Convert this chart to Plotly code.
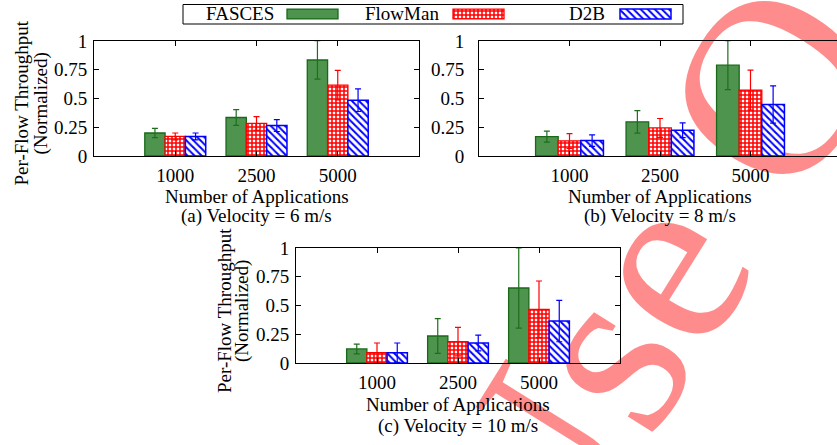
import plotly.graph_objects as go

W, H = 837, 445

categories = ["1000", "2500", "5000"]
series = ["FASCES", "FlowMan", "D2B"]
yticks = [0, 0.25, 0.5, 0.75, 1]
yticktext = ["0", "0.25", "0.5", "0.75", "1"]

# (a) Velocity = 6 m/s
a_fasces = [0.200, 0.335, 0.835]
a_fasces_err = [0.040, 0.068, 0.167]
a_flowman = [0.170, 0.283, 0.616]
a_flowman_err = [0.030, 0.060, 0.128]
a_d2b = [0.170, 0.265, 0.485]
a_d2b_err = [0.030, 0.052, 0.098]

# (b) Velocity = 8 m/s
b_fasces = [0.169, 0.297, 0.790]
b_fasces_err = [0.048, 0.098, 0.212]
b_flowman = [0.131, 0.244, 0.573]
b_flowman_err = [0.064, 0.082, 0.174]
b_d2b = [0.134, 0.224, 0.448]
b_d2b_err = [0.050, 0.064, 0.162]

# (c) Velocity = 10 m/s
c_fasces = [0.122, 0.235, 0.652]
c_fasces_err = [0.042, 0.151, 0.348]
c_flowman = [0.090, 0.186, 0.467]
c_flowman_err = [0.084, 0.124, 0.246]
c_d2b = [0.090, 0.174, 0.365]
c_d2b_err = [0.084, 0.069, 0.180]

captions = ["(a) Velocity = 6 m/s", "(b) Velocity = 8 m/s", "(c) Velocity = 10 m/s"]
xtitle = "Number of Applications"
ytitle1 = "Per-Flow Throughput"
ytitle2 = "(Normalized)"
watermark = "Use Only"

FONT = "Liberation Serif, Times New Roman, serif"
FS = 19


def px(x):
    return x / W


def py(y):
    return 1 - y / H


styles = [
    dict(color="rgb(78,148,78)", line=dict(color="rgb(25,105,25)", width=1.3)),
    dict(color="white", line=dict(color="red", width=1.3),
         pattern=dict(shape="+", fgcolor="red", bgcolor="white", size=4, solidity=0.62, fillmode="replace")),
    dict(color="white", line=dict(color="blue", width=1.5),
         pattern=dict(shape="\\", fgcolor="blue", bgcolor="white", size=5, solidity=0.4, fillmode="replace")),
]
err_colors = ["rgb(30,110,30)", "red", "blue"]

fig = go.Figure()

panels = [
    ("x", "y", [a_fasces, a_flowman, a_d2b], [a_fasces_err, a_flowman_err, a_d2b_err]),
    ("x2", "y2", [b_fasces, b_flowman, b_d2b], [b_fasces_err, b_flowman_err, b_d2b_err]),
    ("x3", "y3", [c_fasces, c_flowman, c_d2b], [c_fasces_err, c_flowman_err, c_d2b_err]),
]
xpos = list(range(len(categories)))
for xa, ya, vals, errs in panels:
    for i, name in enumerate(series):
        fig.add_trace(go.Bar(
            x=xpos, y=vals[i], name=name, xaxis=xa, yaxis=ya, showlegend=False,
            marker=styles[i],
            error_y=dict(type="data", array=errs[i], color=err_colors[i], thickness=1.2, width=3),
        ))

# legend swatches (custom gnuplot-style legend: text then swatch)
leg_starts = [287, 453, 620]
leg_text_right = [276, 441, 607]
for i, name in enumerate(series):
    fig.add_trace(go.Bar(
        y=[0.5], x=[51], base=[leg_starts[i]], orientation="h", width=0.55, offset=-0.275,
        xaxis="x4", yaxis="y4", showlegend=False, marker=styles[i], hoverinfo="skip",
    ))

axis_common = dict(showline=True, linecolor="black", linewidth=1, ticks="inside", ticklen=5,
                   tickcolor="black", showgrid=False, zeroline=False, automargin=False,
                   tickfont=dict(family=FONT, size=FS, color="black"))

# panel geometry (pixels): left, right, top, bottom, x-range end
geo = {
    "": (94, 419, 41, 156, 3.0, True),
    "2": (479, 837, 41, 156, -1 + (837 - 479) / 90.5, False),
    "3": (296, 620, 248, 363, 3.0, True),
}
layout = dict(
    template="none",
    width=W, height=H, margin=dict(l=0, r=0, t=0, b=0, autoexpand=False),
    paper_bgcolor="white", plot_bgcolor="rgba(0,0,0,0)",
    barmode="group", bargap=0.25, bargroupgap=0.0,
    font=dict(family=FONT, size=FS, color="black"),
)
standoff = {"": 2, "2": 10, "3": 2}
for k, (l, r, t, b, xend, ymir) in geo.items():
    layout["xaxis" + k] = dict(axis_common, domain=[px(l), px(r)], range=[-1, xend],
                               tickvals=xpos, ticktext=categories, mirror="ticks",
                               anchor="y" + k, ticklabelstandoff=2)
    layout["yaxis" + k] = dict(axis_common, domain=[py(b), py(t)], range=[0, 1],
                               tickvals=yticks, ticktext=yticktext,
                               mirror="ticks" if ymir else False,
                               anchor="x" + k, ticklabelstandoff=standoff[k])
layout["xaxis4"] = dict(domain=[0, 1], range=[0, W], visible=False, anchor="y4", fixedrange=True,
                        automargin=False)
layout["yaxis4"] = dict(domain=[py(23), py(5)], range=[0, 1], visible=False, anchor="x4", fixedrange=True,
                        automargin=False)
fig.update_layout(**layout)

ann = []
# legend texts
for i, name in enumerate(series):
    ann.append(dict(x=px(leg_text_right[i]), y=py(14), xref="paper", yref="paper", text=name,
                    showarrow=False, xanchor="right", yanchor="middle"))
# x titles and captions
centers = [(256.5, 197, 216), (660, 197, 216), (458, 404, 426)]
for (cx, ty, cy), cap in zip(centers, captions):
    ann.append(dict(x=px(cx), y=py(ty), xref="paper", yref="paper", text=xtitle,
                    showarrow=False, xanchor="center", yanchor="middle"))
    ann.append(dict(x=px(cx), y=py(cy), xref="paper", yref="paper", text=cap,
                    showarrow=False, xanchor="center", yanchor="middle"))
# y titles
for (x1, x2, yc) in [(21, 40, 103.5), (224, 242, 311)]:
    ann.append(dict(x=px(x1), y=py(yc), xref="paper", yref="paper", text=ytitle1, textangle=-90,
                    showarrow=False, xanchor="center", yanchor="middle"))
    ann.append(dict(x=px(x2), y=py(yc), xref="paper", yref="paper", text=ytitle2, textangle=-90,
                    showarrow=False, xanchor="center", yanchor="middle"))
fig.update_layout(annotations=ann)

wm_x, wm_y = 712, 128
shapes = [
    # legend box
    dict(type="rect", xref="paper", yref="paper", x0=px(183), x1=px(683), y0=py(24), y1=py(4.5),
         line=dict(color="black", width=1), fillcolor="rgba(0,0,0,0)", layer="above"),
    # watermark (drawn beneath the chart content)
    dict(type="rect", xref="paper", yref="paper", x0=px(wm_x - 1), x1=px(wm_x + 1),
         y0=py(wm_y + 1), y1=py(wm_y - 1),
         line=dict(width=0), fillcolor="rgba(0,0,0,0)", layer="below",
         label=dict(text=watermark, textangle=-58, textposition="middle center",
                    font=dict(family=FONT, size=254, color="rgba(255,0,0,0.45)"))),
]
fig.update_layout(shapes=shapes)

fig.write_html("out.html", config={"displayModeBar": False},
               post_script="document.body.style.margin='0px';")
